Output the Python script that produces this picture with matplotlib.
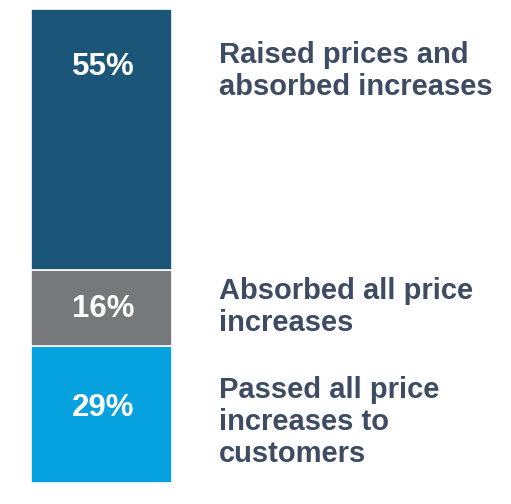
import matplotlib
matplotlib.use("Agg")
import matplotlib.pyplot as plt

categories = ["Passed all price\nincreases to\ncustomers",
              "Absorbed all price\nincreases",
              "Raised prices and\nabsorbed increases"]
values = [29, 16, 55]
value_labels = ["29%", "16%", "55%"]
colors = ["#06a2e0", "#77787b", "#1b5578"]

W, H = 511, 504
fig = plt.figure(figsize=(W / 100, H / 100), dpi=100)
bar_top_px, bar_bot_px = 9, 483
ax = fig.add_axes([0, (H - bar_bot_px) / H, 1, (bar_bot_px - bar_top_px) / H])
ax.set_xlim(0, W)
ax.set_ylim(0, 100)
ax.axis("off")

def py(p):
    return (bar_bot_px - p) / (bar_bot_px - bar_top_px) * 100

bottom = 0
for v, c in zip(values, colors):
    ax.bar(101.5, v, width=141, bottom=bottom, color=c, edgecolor="white", linewidth=1.2)
    bottom += v

pct_y = [py(408), py(309), py(67)]
lab_y = [py(422), py(307), py(71)]
txt = "#3d4b63"
font = "Liberation Sans"
for lbl, yv in zip(value_labels, pct_y):
    ax.text(103, yv, lbl, ha="center", va="center", color="white",
            fontsize=22.5, fontweight="bold", family=font)
for cat, yv in zip(categories, lab_y):
    ax.text(219, yv, cat, ha="left", va="center", color=txt,
            fontsize=21, fontweight="bold", family=font, linespacing=1.19)

fig.savefig("out.png", dpi=100)
